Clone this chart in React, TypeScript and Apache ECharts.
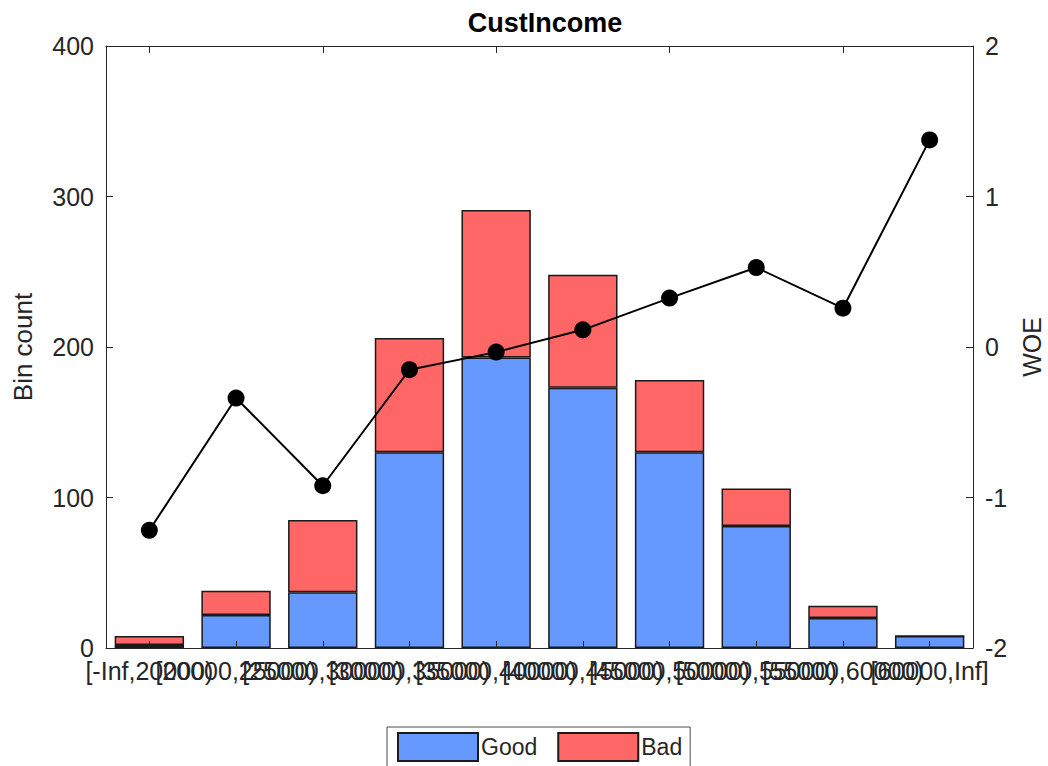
import React, { useEffect, useRef } from "react";
import * as echarts from "echarts";

const categories = [
  "[-Inf,20000)",
  "[20000,25000)",
  "[25000,30000)",
  "[30000,35000)",
  "[35000,40000)",
  "[40000,45000)",
  "[45000,50000)",
  "[50000,55000)",
  "[55000,60000)",
  "[60000,Inf]",
];
const goodCounts = [2, 22, 37, 130, 193, 173, 130, 81, 20, 8];
const badCounts = [6, 16, 48, 76, 98, 75, 48, 25, 8, 0];
const woeValues = [-1.218, -0.339, -0.922, -0.151, -0.034, 0.114, 0.325, 0.528, 0.258, 1.376];

const FONT = "'Liberation Sans', Arial, Helvetica, sans-serif";
const AXIS_COLOR = "#262626";

export default function App() {
  const ref = useRef<HTMLDivElement>(null);
  useEffect(() => {
    if (!ref.current) return;
    const chart = echarts.init(ref.current, null, { renderer: "svg" });
    const tickStyle = { color: AXIS_COLOR, width: 1 };
    chart.setOption({
      animation: false,
      backgroundColor: "#ffffff",
      textStyle: { fontFamily: FONT },
      title: {
        text: "CustIncome",
        left: 540,
        textAlign: "center",
        top: 4,
        textStyle: { fontSize: 27, fontWeight: "bold", color: "#000", fontFamily: FONT },
      },
      grid: {
        left: 106,
        right: 75,
        top: 46,
        bottom: 118,
        containLabel: false,
        outerBoundsMode: "none",
      },
      legend: {
        data: ["Good", "Bad"],
        left: 387,
        top: 727,
        orient: "horizontal",
        icon: "rect",
        padding: [5, 8, 5, 10],
        itemGap: 20,
        itemWidth: 80,
        itemHeight: 28,
        borderColor: "#4d4d4d",
        borderWidth: 1,
        backgroundColor: "#fff",
        textStyle: { fontSize: 23, color: AXIS_COLOR, fontFamily: FONT, padding: [0, 0, 0, -2] },
      },
      xAxis: [
        {
          type: "category",
          data: categories,
          position: "bottom",
          boundaryGap: true,
          z: 10,
          axisLine: { show: true, onZero: false, lineStyle: { color: AXIS_COLOR, width: 1 } },
          axisTick: { show: true, inside: true, alignWithLabel: true, length: 7, lineStyle: tickStyle },
          axisLabel: {
            interval: 0,
            hideOverlap: false,
            margin: 10,
            fontSize: 25,
            color: AXIS_COLOR,
            fontFamily: FONT,
          },
          splitLine: { show: false },
        },
        {
          type: "category",
          data: categories,
          position: "top",
          boundaryGap: true,
          z: 10,
          axisLine: { show: true, onZero: false, lineStyle: { color: AXIS_COLOR, width: 1 } },
          axisTick: { show: true, inside: true, alignWithLabel: true, length: 7, lineStyle: tickStyle },
          axisLabel: { show: false },
          splitLine: { show: false },
        },
      ],
      yAxis: [
        {
          type: "value",
          min: 0,
          max: 400,
          interval: 100,
          position: "left",
          z: 10,
          name: "Bin count",
          nameLocation: "middle",
          nameGap: 70,
          nameTextStyle: { fontSize: 26, color: AXIS_COLOR, fontFamily: FONT },
          axisLine: { show: true, onZero: false, lineStyle: { color: AXIS_COLOR, width: 1 } },
          axisTick: { show: true, inside: true, length: 7, lineStyle: tickStyle },
          axisLabel: { fontSize: 25, color: AXIS_COLOR, margin: 12, fontFamily: FONT },
          splitLine: { show: false },
        },
        {
          type: "value",
          min: -2,
          max: 2,
          interval: 1,
          position: "right",
          z: 10,
          name: "WOE",
          nameLocation: "middle",
          nameGap: 46,
          nameTextStyle: { fontSize: 25, color: AXIS_COLOR, fontFamily: FONT },
          axisLine: { show: true, onZero: false, lineStyle: { color: AXIS_COLOR, width: 1 } },
          axisTick: { show: true, inside: true, length: 7, lineStyle: tickStyle },
          axisLabel: { fontSize: 25, color: AXIS_COLOR, margin: 12, fontFamily: FONT },
          splitLine: { show: false },
        },
      ],
      series: [
        {
          name: "Good",
          type: "bar",
          stack: "bins",
          xAxisIndex: 0,
          yAxisIndex: 0,
          barWidth: "80%",
          data: goodCounts,
          itemStyle: { color: "#6699ff", borderColor: "#1a1a1a", borderWidth: 1.5 },
          z: 2,
        },
        {
          name: "Bad",
          type: "bar",
          stack: "bins",
          xAxisIndex: 0,
          yAxisIndex: 0,
          barWidth: "80%",
          data: badCounts,
          itemStyle: { color: "#ff6666", borderColor: "#1a1a1a", borderWidth: 1.5 },
          z: 2,
        },
        {
          name: "WOE",
          type: "line",
          xAxisIndex: 0,
          yAxisIndex: 1,
          data: woeValues,
          symbol: "circle",
          symbolSize: 17,
          lineStyle: { color: "#000", width: 2 },
          itemStyle: { color: "#000" },
          z: 5,
        },
      ],
    });
    return () => chart.dispose();
  }, []);
  return (
    <div
      ref={ref}
      style={{ position: "fixed", left: 0, top: 0, width: 1048, height: 766, background: "#fff" }}
    />
  );
}
